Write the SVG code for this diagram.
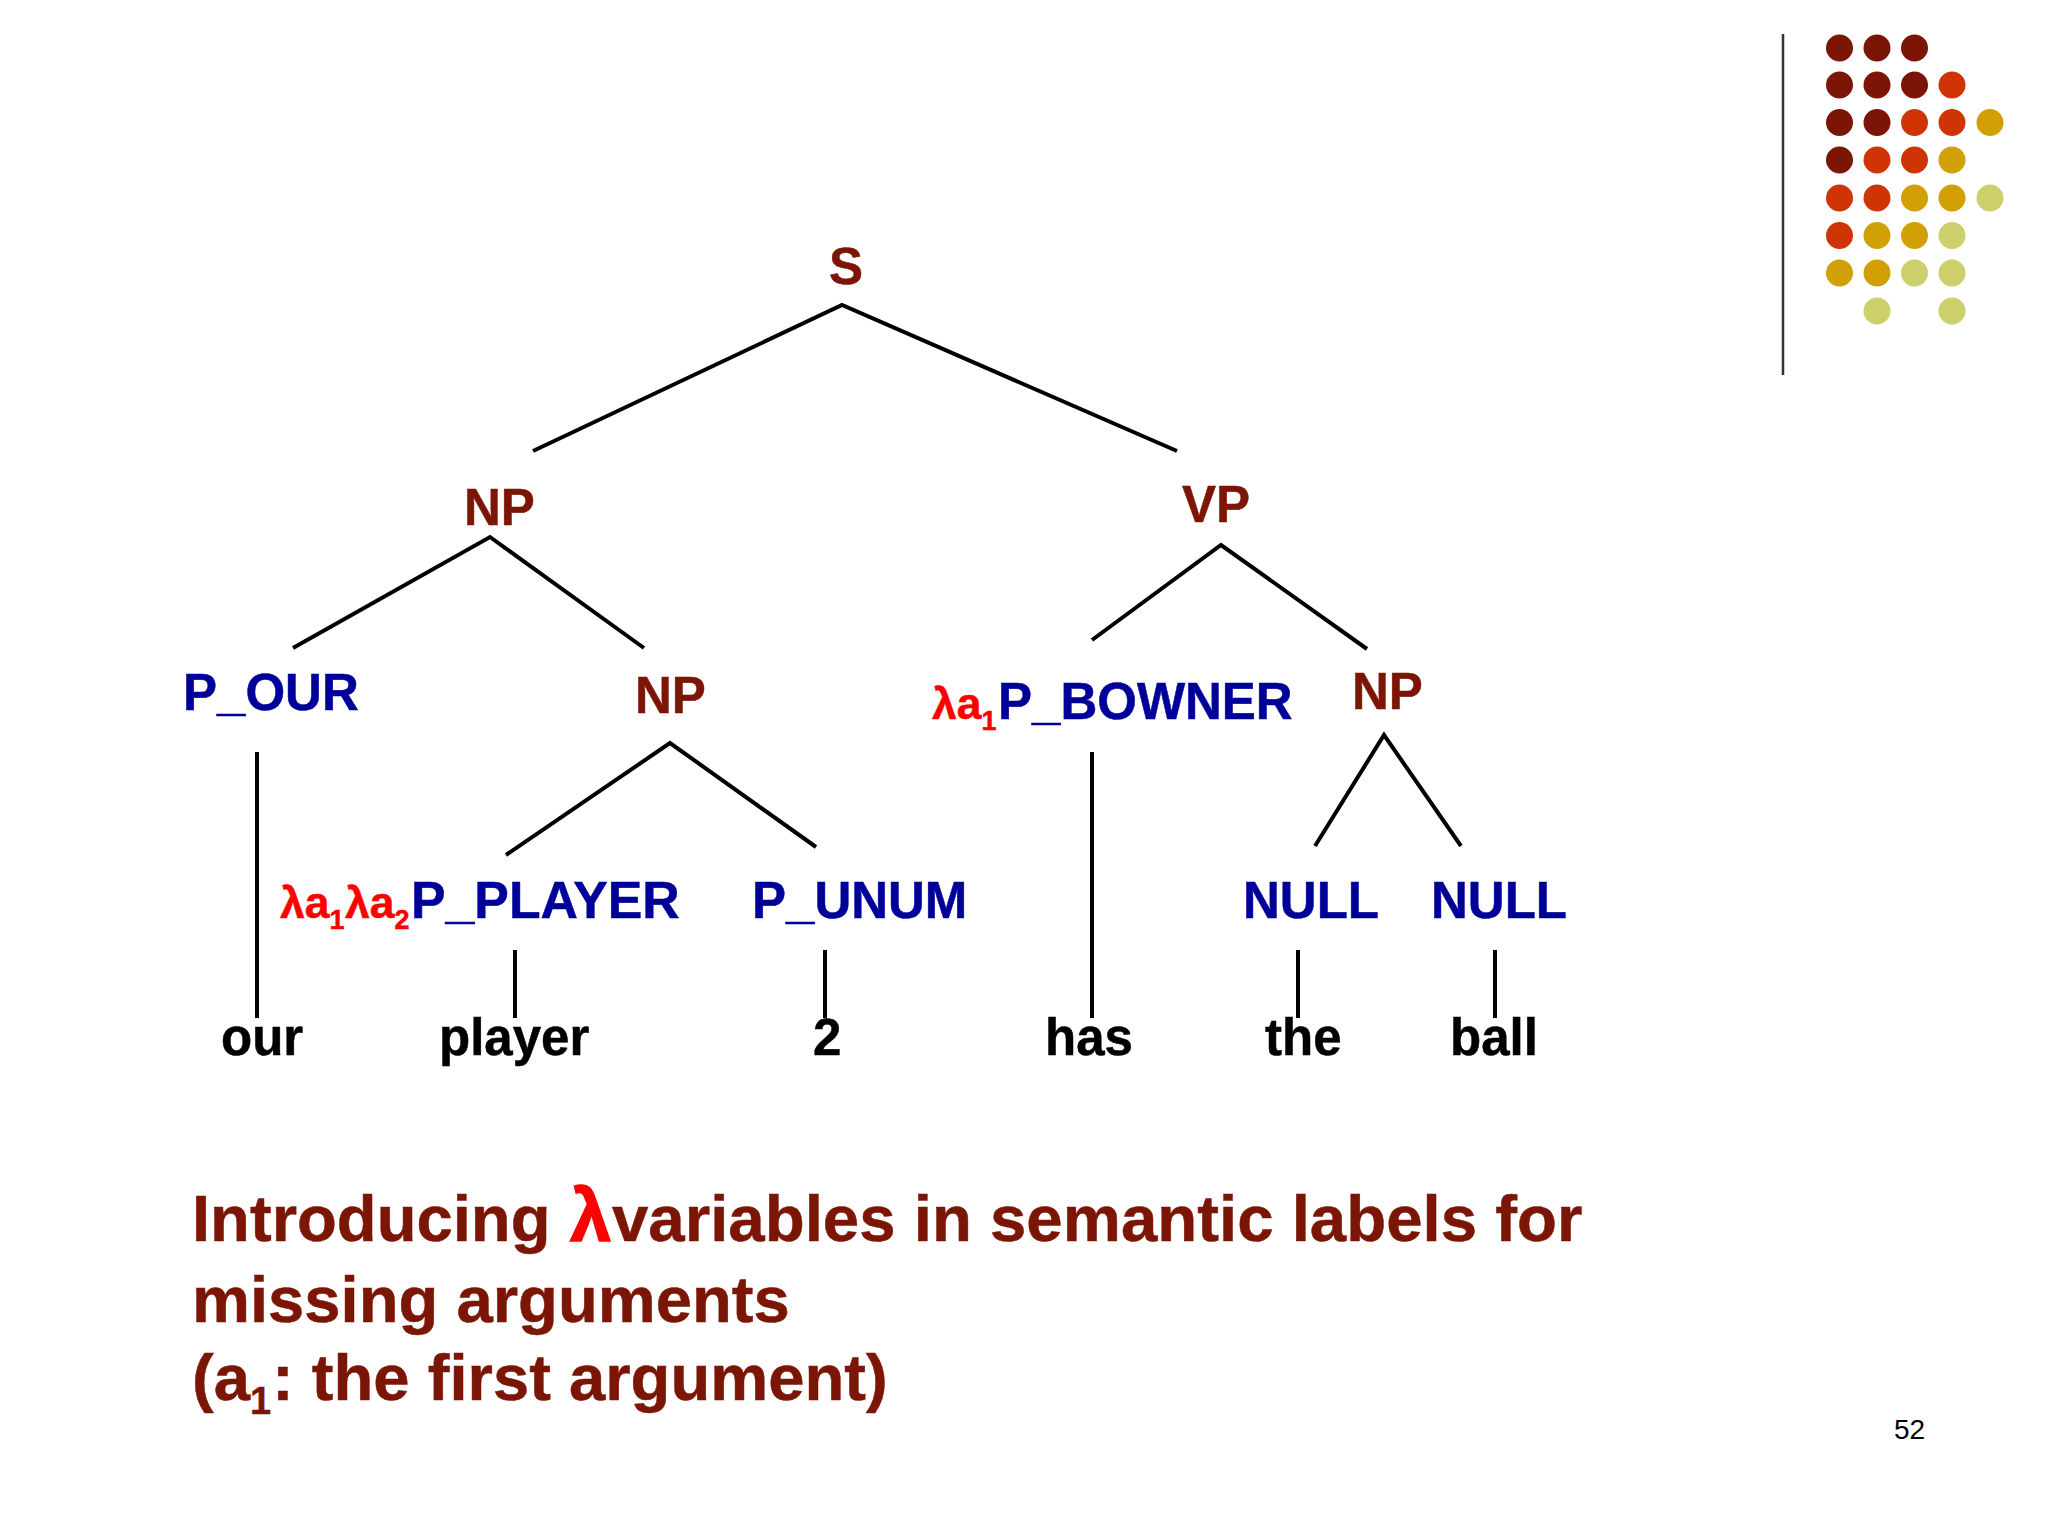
<svg xmlns="http://www.w3.org/2000/svg" width="2048" height="1536" viewBox="0 0 2048 1536">
<style>
text{font-family:"Liberation Sans",Arial,sans-serif;font-weight:700}
.n{font-size:51px}
.c{fill:#7b1505;stroke:#7b1505;stroke-width:.5}.p{fill:#000099;stroke:#000099;stroke-width:.5}.w{fill:#000;stroke:#000;stroke-width:.5}.r{fill:#f00;stroke:#f00;stroke-width:.5}
.l{font-size:44.5px}.s{font-size:27px}
.t{font-size:65.2px}
.e{stroke:#000;stroke-width:4;fill:none;stroke-linecap:butt}
.d1{fill:#7b1505}.d2{fill:#cf3504}.d3{fill:#d0a004}.d4{fill:#cdd06a}
</style>
<rect width="2048" height="1536" fill="#fff"/>
<g id="decor">
<line x1="1783" y1="34" x2="1783" y2="375" stroke="#333" stroke-width="2.5"/>
<g class="d1"><circle cx="1839.5" cy="48" r="13.5"/><circle cx="1877" cy="48" r="13.5"/><circle cx="1914.5" cy="48" r="13.5"/><circle cx="1839.5" cy="85" r="13.5"/><circle cx="1877" cy="85" r="13.5"/><circle cx="1914.5" cy="85" r="13.5"/><circle cx="1839.5" cy="122.5" r="13.5"/><circle cx="1877" cy="122.5" r="13.5"/><circle cx="1839.5" cy="160" r="13.5"/></g>
<g class="d2"><circle cx="1952" cy="85" r="13.5"/><circle cx="1914.5" cy="122.5" r="13.5"/><circle cx="1952" cy="122.5" r="13.5"/><circle cx="1877" cy="160" r="13.5"/><circle cx="1914.5" cy="160" r="13.5"/><circle cx="1839.5" cy="198" r="13.5"/><circle cx="1877" cy="198" r="13.5"/><circle cx="1839.5" cy="235.5" r="13.5"/></g>
<g class="d3"><circle cx="1990" cy="122.5" r="13.5"/><circle cx="1952" cy="160" r="13.5"/><circle cx="1914.5" cy="198" r="13.5"/><circle cx="1952" cy="198" r="13.5"/><circle cx="1877" cy="235.5" r="13.5"/><circle cx="1914.5" cy="235.5" r="13.5"/><circle cx="1839.5" cy="273" r="13.5"/><circle cx="1877" cy="273" r="13.5"/></g>
<g class="d4"><circle cx="1990" cy="198" r="13.5"/><circle cx="1952" cy="235.5" r="13.5"/><circle cx="1914.5" cy="273" r="13.5"/><circle cx="1952" cy="273" r="13.5"/><circle cx="1877" cy="311" r="13.5"/><circle cx="1952" cy="311" r="13.5"/></g>
</g>
<g id="connectors" class="e">
<path d="M533 451L842 305L1177 451"/>
<path d="M293 648L490 537L644 648"/>
<path d="M1092 640L1221 545L1367 649"/>
<path d="M506 855L670 743L816 847"/>
<path d="M1315 846L1384 735L1461 846"/>
<path d="M257 752V1018M515 950V1018M825 950V1018M1092 752V1018M1298 950V1018M1495 950V1018"/>
</g>
<g id="n-s"><text class="n c" x="829" y="284">S</text></g>
<g id="n-np1"><text class="n c" x="464" y="525">NP</text></g>
<g id="n-vp"><text class="n c" x="1182" y="522">VP</text></g>
<g id="n-pour"><text class="n p" x="183" y="710">P_OUR</text></g>
<g id="n-np2"><text class="n c" x="635" y="713">NP</text></g>
<g id="n-pbowner"><text x="932" y="719"><tspan class="l r">λa</tspan><tspan class="s r" dy="11">1</tspan><tspan class="n p" x="998" dy="-11">P_BOWNER</tspan></text></g>
<g id="n-np3"><text class="n c" x="1352" y="709">NP</text></g>
<g id="n-pplayer"><text x="280" y="918"><tspan class="l r">λa</tspan><tspan class="s r" dy="11">1</tspan><tspan class="l r" x="345" dy="-11">λa</tspan><tspan class="s r" dy="11">2</tspan><tspan class="n p" x="411" dy="-11" style="font-size:51.8px">P_PLAYER</tspan></text></g>
<g id="n-punum"><text class="n p" x="752" y="918">P_UNUM</text></g>
<g id="n-null1"><text class="n p" x="1243" y="918">NULL</text></g>
<g id="n-null2"><text class="n p" x="1431" y="918">NULL</text></g>
<g id="n-our"><text class="n w" x="221" y="1055">our</text></g>
<g id="n-player"><text class="n w" x="439" y="1055">player</text></g>
<g id="n-2"><text class="n w" x="813" y="1055">2</text></g>
<g id="n-has"><text class="n w" x="1045" y="1055">has</text></g>
<g id="n-the"><text class="n w" x="1265" y="1055">the</text></g>
<g id="n-ball"><text class="n w" x="1450" y="1055">ball</text></g>
<g id="caption">
<text class="t c" x="192" y="1241">Introducing <tspan class="r" style="font-size:74px;stroke-width:1.5" x="570">λ</tspan><tspan x="612" style="font-size:65.4px">variables in semantic labels for</tspan></text>
<text class="t c" x="192" y="1322">missing arguments</text>
<text class="t c" x="192" y="1400">(a<tspan style="font-size:38px" dy="14">1</tspan><tspan x="272" dy="-14">: the first argument)</tspan></text>
</g>
<text id="page" x="1894" y="1439" font-size="28" style="font-weight:400">52</text>
</svg>
